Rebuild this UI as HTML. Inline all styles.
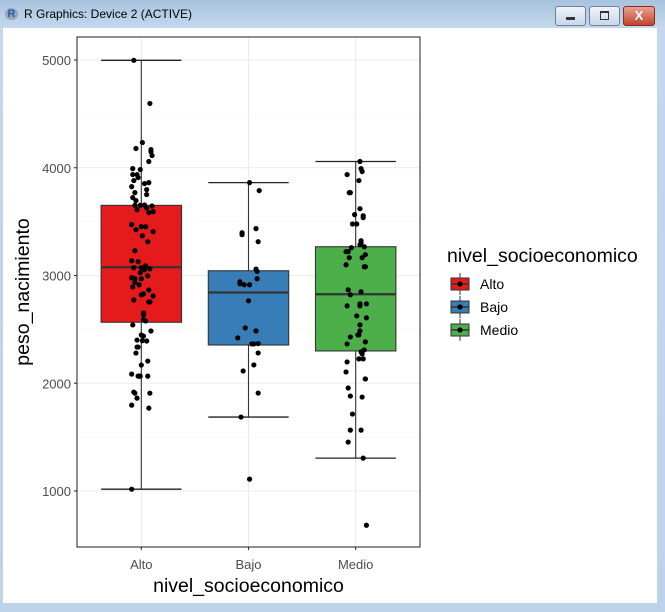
<!DOCTYPE html>
<html><head><meta charset="utf-8"><style>
body{margin:0;width:665px;height:612px;overflow:hidden;background:#b9d1ea;font-family:"Liberation Sans",sans-serif;}
#win{position:absolute;left:0;top:0;width:665px;height:612px;background:linear-gradient(#a9c3de,#c3d8ee 28px,#bcd3ea);}
#client{position:absolute;left:3px;top:28px;width:654px;height:575px;background:#fff;}
#title{position:absolute;left:24px;top:7px;font-size:12px;color:#000;}
.btn{position:absolute;top:6px;height:18px;border:1px solid #6d7f99;border-radius:3px;background:linear-gradient(#eef3f9,#c9d7e8);}
</style></head><body>
<div id="win">
<div style="position:absolute;left:5px;top:8px;width:13px;height:12px;border-radius:50%;background:#9aa6b5;color:#1f5fae;font:bold 11px 'Liberation Sans',sans-serif;text-align:center;line-height:12px">R</div>
<div id="title">R Graphics: Device 2 (ACTIVE)</div>
<div class="btn" style="left:555px;width:29px"><div style="position:absolute;left:10px;top:10px;width:9px;height:3px;background:#333"></div></div>
<div class="btn" style="left:589px;width:29px"><div style="position:absolute;left:10px;top:4px;width:7px;height:6px;border:1px solid #333;border-top-width:2px"></div></div>
<div class="btn" style="left:623px;width:30px;background:linear-gradient(#e9a293,#c4432c);border-color:#8a2b1c;color:#fff;font:bold 13px 'Liberation Sans',sans-serif;text-align:center;line-height:18px">X</div>
<div id="client"></div>
<svg id="chart" width="665" height="612" style="position:absolute;left:0;top:0"></svg>
</div>
<script>
const categories=["Alto","Bajo","Medio"];
const colors=["#e41a1c","#377eb8","#4daf4a"];
const yTicks=[1000,2000,3000,4000,5000];
const boxQ1=[2566,2355,2300];
const boxMed=[3077,2842,2826];
const boxQ3=[3651,3044,3267];
const whiskLo=[1017,1686,1305];
const whiskHi=[4997,3862,4058];
const altoVals=[4997,4597,4234,4179,4169,4148,4113,4058,3992,3983,3937,3937,3909,3881,3862,3853,3825,3797,3751,3769,3723,3695,3652,3652,3655,3611,3627,3645,3593,3583,3472,3453,3453,3425,3407,3369,3314,3230,3137,3128,3072,3090,3072,3062,3053,3025,2997,2979,2970,2970,2937,2913,2894,2866,2820,2829,2810,2773,2755,2755,2652,2634,2590,2578,2541,2485,2448,2438,2401,2395,2392,2336,2336,2280,2206,2169,2085,2066,2066,2066,2066,1918,1908,1908,1862,1797,1769,1017];
const altoJit=[-0.07,0.08,0.01,-0.05,0.09,0.09,0.10,0.07,-0.08,-0.01,-0.08,-0.04,-0.03,-0.07,0.07,0.03,-0.09,0.05,0.05,-0.06,-0.08,-0.05,-0.06,-0.01,0.03,-0.04,0.05,0.10,0.11,0.07,-0.09,0,0.04,-0.05,0.11,0.01,0.06,-0.06,-0.09,-0.03,-0.07,0.04,0,0.08,0.03,-0.01,0.06,-0.09,-0.06,0,-0.06,-0.02,-0.08,0.07,0,0.02,0.11,-0.07,0.07,0.08,0.02,0.02,0.02,0.04,-0.08,0.09,0,0.02,-0.04,0.01,0.05,-0.03,-0.04,-0.05,0.06,0,-0.09,-0.03,-0.02,-0.01,0.06,-0.07,-0.06,0.08,-0.04,-0.09,0.07,-0.09];
const bajoVals=[3862,3788,3435,3397,3379,3314,3059,3038,2970,2942,2923,2914,2914,2765,2514,2486,2421,2365,2365,2368,2281,2170,2114,1909,1686,1110];
const bajoJit=[0.01,0.10,0.07,-0.06,-0.06,0.09,0.07,0.08,0.08,-0.08,-0.08,-0.04,0.01,0,-0.03,0.07,-0.10,0.03,0.05,0.09,0.09,0.05,-0.05,0.09,-0.07,0.01];
const medioVals=[4058,3992,3965,3937,3881,3769,3769,3620,3565,3555,3537,3478,3478,3323,3304,3286,3267,3258,3221,3221,3193,3165,3165,3100,3081,3081,2867,2849,2821,2737,2718,2718,2737,2625,2607,2542,2486,2449,2430,2449,2384,2365,2309,2291,2272,2226,2226,2198,2105,2040,2040,1956,1881,1872,1714,1565,1565,1454,1305,682];
const medioJit=[0.04,0.05,0.06,-0.08,0.03,-0.06,-0.05,0.04,-0.01,0.07,0.07,-0.03,0.01,0.05,0.05,0.04,0.08,-0.04,-0.09,-0.07,0.09,-0.06,0.06,-0.09,0.08,0.09,-0.07,0.05,-0.05,0.04,-0.08,0.04,0.10,0.01,0.10,0.04,0.04,0.03,-0.05,0.02,0.09,-0.08,0.08,0.05,0.06,0.03,0.07,-0.08,-0.09,0.09,0.09,-0.07,-0.05,0.06,-0.03,-0.05,0.05,-0.07,0.07,0.10];

const NS="http://www.w3.org/2000/svg";
const svg=document.getElementById('chart');
const PL=77,PR=420,PT=37,PB=547;
const x=i=>PL+(i+0.6)*(PR-PL)/3.2;
const y=v=>60+(5000-v)*0.10775;
const bw=0.75*(PR-PL)/3.2;
function mk(t,a){const e=document.createElementNS(NS,t);for(const k in a)e.setAttribute(k,a[k]);svg.appendChild(e);return e;}
for(const t of yTicks){const g=mk('line',{x1:PL,x2:PR,y1:y(t),y2:y(t),stroke:'#ebebeb','stroke-width':1.1});

}
for(let i=0;i<yTicks.length-1;i++){const m=(yTicks[i]+yTicks[i+1])/2;const g=mk('line',{x1:PL,x2:PR,y1:y(m),y2:y(m),stroke:'#f3f3f3','stroke-width':0.6});

}
categories.forEach((c,i)=>{const g=mk('line',{x1:x(i),x2:x(i),y1:PT,y2:PB,stroke:'#ebebeb','stroke-width':1.1});

});
categories.forEach((c,i)=>{
 const cx=x(i);
 const w=mk('line',{x1:cx,x2:cx,y1:y(whiskHi[i]),y2:y(whiskLo[i]),stroke:'#333','stroke-width':1.1});
 
 
 [whiskHi[i],whiskLo[i]].forEach(v=>{const cap=mk('line',{x1:cx-bw/2,x2:cx+bw/2,y1:y(v),y2:y(v),stroke:'#222','stroke-width':1.3});
 
 });
 const r=mk('rect',{x:cx-bw/2,y:y(boxQ3[i]),width:bw,height:y(boxQ1[i])-y(boxQ3[i]),fill:colors[i],stroke:'#333','stroke-width':1.1});
 
 
 const m=mk('line',{x1:cx-bw/2,x2:cx+bw/2,y1:y(boxMed[i]),y2:y(boxMed[i]),stroke:'#333','stroke-width':2.2});
 
 
});
[[altoVals,altoJit],[bajoVals,bajoJit],[medioVals,medioJit]].forEach(([vs,js],i)=>{
 vs.forEach((v,k)=>{const p=mk('circle',{cx:x(i+js[k]),cy:y(v),r:2.6,fill:'#000'});
 
 });
});
const frame=mk('rect',{x:PL,y:PT,width:PR-PL,height:PB-PT,fill:'none',stroke:'#333','stroke-width':1.1});


for(const t of yTicks){
 const tk=mk('line',{x1:PL-3,x2:PL,y1:y(t),y2:y(t),stroke:'#333','stroke-width':1.1});
 
 
 const l=mk('text',{x:PL-6,y:y(t)+5,'text-anchor':'end','font-size':13,fill:'#4d4d4d','font-family':'Liberation Sans, sans-serif'});
 l.textContent=t;
 
 
}
categories.forEach((c,i)=>{
 const tk=mk('line',{x1:x(i),x2:x(i),y1:PB,y2:PB+3,stroke:'#333','stroke-width':1.1});
 
 
 const l=mk('text',{x:x(i),y:PB+22,'text-anchor':'middle','font-size':13,fill:'#4d4d4d','font-family':'Liberation Sans, sans-serif'});
 l.textContent=c;
 
 
});
const xt=mk('text',{x:(PL+PR)/2,y:592,'text-anchor':'middle','font-size':19.5,fill:'#000','font-family':'Liberation Sans, sans-serif'});
xt.textContent='nivel_socioeconomico';


const yt=mk('text',{x:0,y:0,'text-anchor':'middle','font-size':19.5,fill:'#000','font-family':'Liberation Sans, sans-serif',transform:'translate(29,292) rotate(-90)'});
yt.textContent='peso_nacimiento';


const lt=mk('text',{x:447,y:262,'font-size':19.5,fill:'#000','font-family':'Liberation Sans, sans-serif'});
lt.textContent='nivel_socioeconomico';


categories.forEach((c,i)=>{
 const cy=284+i*23;
 const g=document.createElementNS(NS,'g');svg.appendChild(g);
 
 
 const add=(t,a)=>{const e=document.createElementNS(NS,t);for(const k in a)e.setAttribute(k,a[k]);g.appendChild(e);return e;};
 add('line',{x1:460,x2:460,y1:cy-11,y2:cy+11,stroke:'#333','stroke-width':1});
 add('rect',{x:451,y:cy-6,width:18,height:12,fill:colors[i],stroke:'#333','stroke-width':1});
 add('line',{x1:451,x2:469,y1:cy,y2:cy,stroke:'#333','stroke-width':1.5});
 add('circle',{cx:460,cy:cy,r:2.6,fill:'#000'});
 const l=add('text',{x:480,y:cy+5,'font-size':14,fill:'#000','font-family':'Liberation Sans, sans-serif'});
 l.textContent=c;
});
</script>
</body></html>
